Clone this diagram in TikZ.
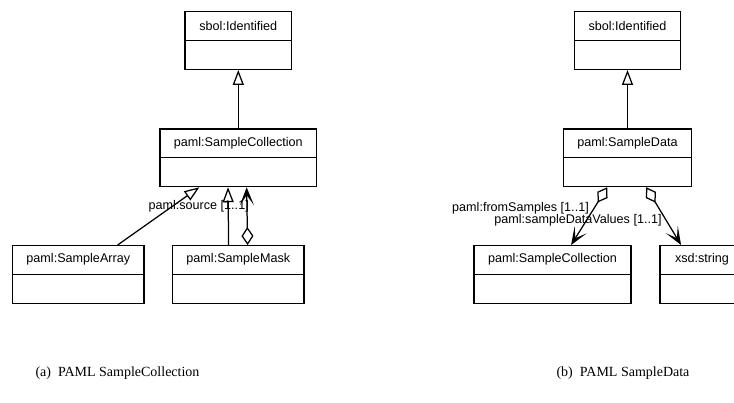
\documentclass[tikz,border=0pt]{standalone}
\usepackage{fontspec}
\setsansfont{Liberation Sans}
\newfontfamily\capfont{Liberation Serif}
\usetikzlibrary{arrows.meta,calc}

% one UML class: name, centre x, top y, width, title
\newcommand\umlclass[5]{%
  \node[umlbox, minimum width=#4pt] (#1) at (#2,#3) {};
  \node[umltitle] (#1-title) at ($(#1.north)+(0,14.6)$) {#5};
  \draw[conn] ($(#1.north west)+(0,29.3)$) -- ($(#1.north east)+(0,29.3)$);
}

\begin{document}
\begin{tikzpicture}[x=1pt,y=-1pt,
  umlbox/.style={draw, line width=1.25pt, minimum height=57.7pt, inner sep=0pt, anchor=north},
  umltitle/.style={font=\sffamily\fontsize{12.6}{15}\selectfont, inner sep=0pt},
  rolelabel/.style={font=\sffamily\fontsize{12.6}{15}\selectfont, inner sep=0pt},
  conn/.style={line width=1.25pt},
  generalize/.style={conn, -{Triangle[open, length=15pt, width=11pt]}},
  aggregate/.style={conn, {Diamond[open, length=18pt, width=12pt]}-{Stealth[length=18pt, width=14pt, inset=10pt]}},
  caption/.style={font=\capfont\fontsize{14}{16}\selectfont, inner sep=0pt}
]
\useasboundingbox (0,0) rectangle (734,403);
\clip (0,0) rectangle (734,403);

% (a) SampleCollection
\umlclass{idL}{238.3}{11}{106.7}{sbol:Identified}
\umlclass{scL}{238.3}{128.3}{156.7}{paml:SampleCollection}
\umlclass{sa}{78.3}{245}{131.3}{paml:SampleArray}
\umlclass{sm}{238.3}{245}{131.3}{paml:SampleMask}

\draw[generalize] (scL.north) -- (idL.south);
\draw[generalize] ($(sa.north west)+(105.6,0)$) -- ($(scL.south west)+(40,0)$);
\draw[generalize] ($(sm.north west)+(56.6,0)$) -- ($(scL.south west)+(68.7,0)$);
\draw[aggregate] ($(sm.north west)+(75.6,0)$) -- ($(scL.south west)+(87.3,0)$);
\node[rolelabel] (srcLbl) at (198.7,206.7) {paml:source [1..1]};

% (b) SampleData
\umlclass{idR}{627.5}{11}{106.7}{sbol:Identified}
\umlclass{sd}{627.5}{128.3}{128.3}{paml:SampleData}
\umlclass{scR}{552.5}{245}{157}{paml:SampleCollection}
\umlclass{xs}{702}{245}{84}{xsd:string}

\draw[generalize] (sd.north) -- (idR.south);
\draw[aggregate] ($(sd.south west)+(44.5,0)$) -- ($(scR.north west)+(97.7,0)$);
\draw[aggregate] ($(sd.south west)+(83.5,0)$) -- ($(xs.north west)+(21.7,0)$);
\node[rolelabel] (fromLbl) at (520.5,208.3) {paml:fromSamples [1..1]};
\node[rolelabel] (valLbl) at (578,220) {paml:sampleDataValues [1..1]};

% sub-captions
\node[caption] (capA) at (117.5,373) {(a)\enspace PAML SampleCollection};
\node[caption] (capB) at (623,373) {(b)\enspace PAML SampleData};
\end{tikzpicture}
\end{document}
